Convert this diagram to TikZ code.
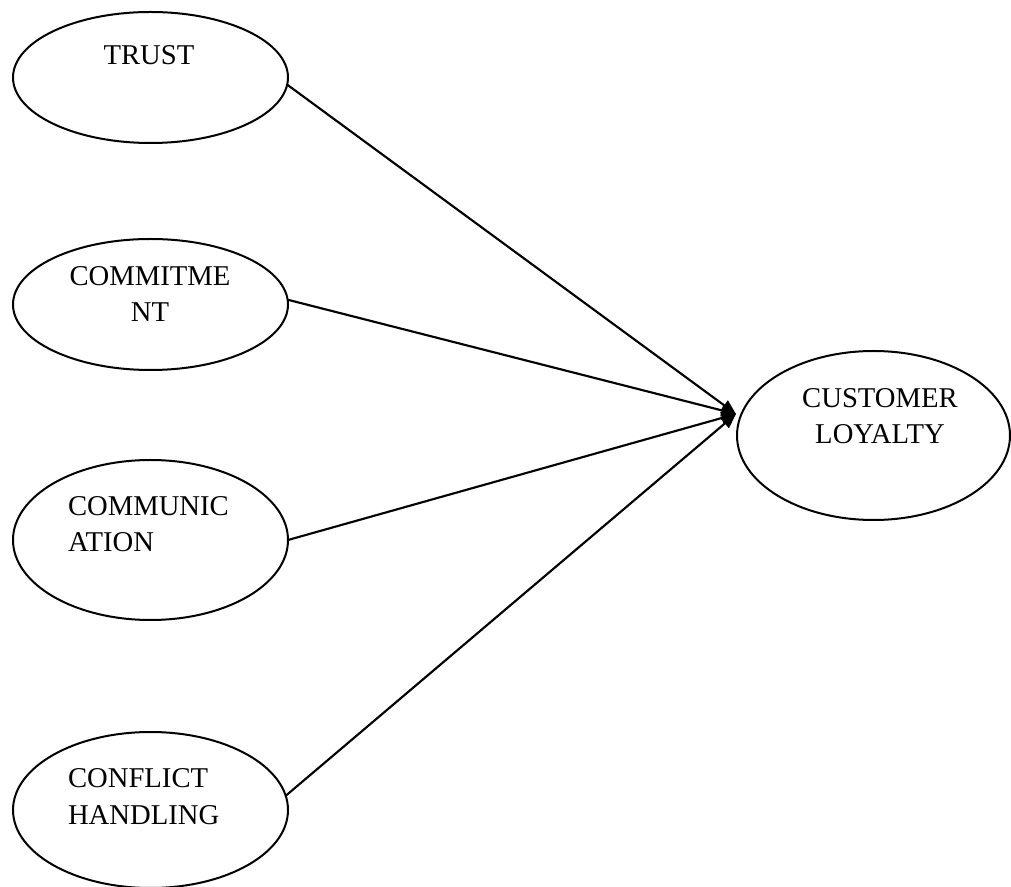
\documentclass[tikz,border=0pt]{standalone}
\usepackage{fontspec}
\setmainfont{Liberation Serif}
\usetikzlibrary{shapes.geometric,arrows.meta}
\begin{document}
\begin{tikzpicture}[x=0.75pt,y=-0.75pt,
  ell/.style={draw,ellipse,line width=1.5pt,inner sep=0pt,outer sep=0pt},
  txt/.style={inner sep=0pt,outer sep=0pt,font=\fontsize{21.5pt}{27.4pt}\selectfont},
  conn/.style={line width=1.6pt,-{Triangle[length=11pt,width=9pt]}}]
\useasboundingbox (0,0) rectangle (1011,887);
\node[ell,minimum width=206.25pt,minimum height=98.25pt] (trust) at (150.5,77.5) {};
\node[ell,minimum width=206.25pt,minimum height=98.25pt] (commit) at (150.5,304.5) {};
\node[ell,minimum width=206.25pt,minimum height=120pt] (comm) at (150.5,540) {};
\node[ell,minimum width=206.25pt,minimum height=117pt] (conf) at (150.5,810) {};
\node[ell,minimum width=204.75pt,minimum height=126.75pt] (loyal) at (873.5,435.5) {};
\node[txt,anchor=base] (trustt) at (149,65) {TRUST};
\node[txt,anchor=base,align=center] (committ) at (150,322) {COMMITME\\NT};
\node[txt,anchor=base west,align=left] (commt) at (68,552) {COMMUNIC\\ATION};
\node[txt,anchor=base west,align=left] (conft) at (68,824) {CONFLICT\\HANDLING};
\node[txt,anchor=base,align=center] (loyalt) at (880,444) {CUSTOMER\\LOYALTY};
\coordinate (tip) at (736,414);
\draw[conn] (trust.-3.4) -- (tip);
\draw[conn] (commit.2) -- (tip);
\draw[conn] (comm.east) -- (tip);
\draw[conn] (conf.6) -- (tip);
\end{tikzpicture}
\end{document}
